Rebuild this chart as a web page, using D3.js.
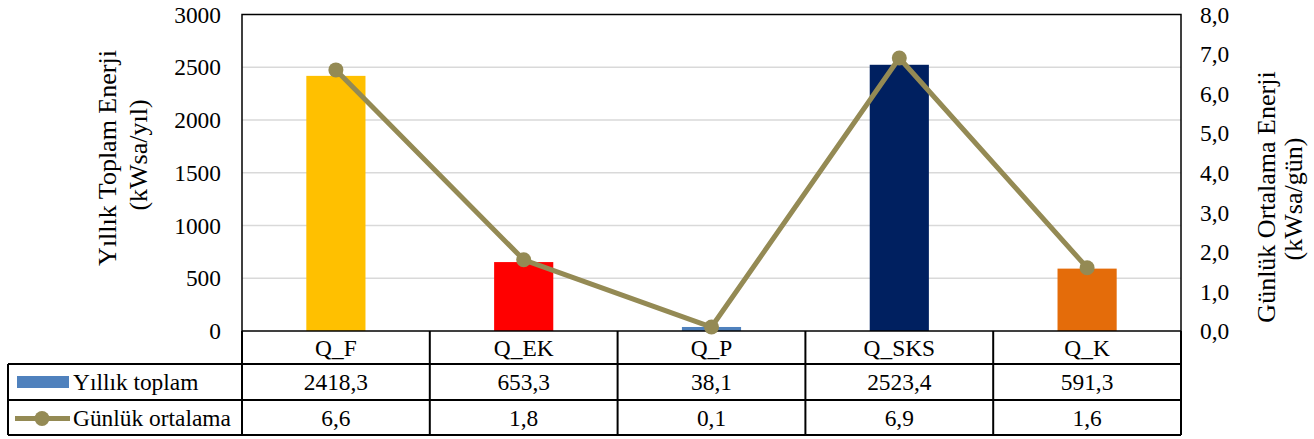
<!DOCTYPE html>
<html><head><meta charset="utf-8">
<script src="https://cdn.jsdelivr.net/npm/d3@7"></script>
<style>body{margin:0;background:#fff;}</style></head>
<body>
<svg id="c" width="1314" height="439"></svg>
<script>
const categories = ["Q_F","Q_EK","Q_P","Q_SKS","Q_K"];
const yearlyTotal = [2418.3, 653.3, 38.1, 2523.4, 591.3];
const dailyAvg = [6.6, 1.8, 0.1, 6.9, 1.6];
const barColors = ["#FFC000","#FF0000","#4F81BD","#002060","#E46C0A"];
const leftTicks = [0,500,1000,1500,2000,2500,3000];
const rightTicks = [0,1,2,3,4,5,6,7,8];
const seriesNames = ["Yıllık toplam","Günlük ortalama"];

const svg = d3.select("#c");
const L = 242, R = 1181, T = 14.5, B = 331;
const F = '"Liberation Serif"';
const FS = "23.4px", FT = "26px";
const lineColor = "#948A54";

const x = d3.scaleBand().domain(categories).range([L, R]).padding(0);
const yL = d3.scaleLinear().domain([0,3000]).range([B, T]);
const yR = d3.scaleLinear().domain([0,8]).range([B, T]);
const fmt = d => d.toFixed(1).replace(".", ",");

// gridlines
svg.append("g").selectAll("line").data(leftTicks.filter(d=>d>0 && d<3000)).join("line")
  .attr("x1", L).attr("x2", R).attr("y1", d=>yL(d)).attr("y2", d=>yL(d))
  .attr("stroke", "#d9d9d9").attr("stroke-width", 1.5);

// bars
const bw = x.bandwidth()*0.315;
svg.append("g").selectAll("rect").data(categories).join("rect")
  .attr("x", d => x(d) + x.bandwidth()/2 - bw/2)
  .attr("width", bw)
  .attr("y", (d,i) => yL(yearlyTotal[i]))
  .attr("height", (d,i) => B - yL(yearlyTotal[i]))
  .attr("fill", (d,i) => barColors[i]);

// plot border
svg.append("rect").attr("x", L).attr("y", T).attr("width", R-L).attr("height", B-T)
  .attr("fill","none").attr("stroke","#000").attr("stroke-width",1.5);

// left axis
const gl = svg.append("g").attr("transform", `translate(${L-21},0)`)
  .call(d3.axisLeft(yL).tickValues(leftTicks).tickSize(0).tickPadding(0).tickFormat(d3.format("d")));
gl.select(".domain").remove();
gl.selectAll("text").attr("dy","0.33em").style("font-family",F).style("font-size",FS);

// right axis
const gr = svg.append("g").attr("transform", `translate(${R+19},0)`)
  .call(d3.axisRight(yR).tickValues(rightTicks).tickSize(0).tickPadding(0).tickFormat(fmt));
gr.select(".domain").remove();
gr.selectAll("text").attr("dy","0.33em").style("font-family",F).style("font-size",FS);

// axis titles
svg.append("text").attr("transform","translate(107,158) rotate(-90)")
  .attr("text-anchor","middle").attr("dy","0.33em")
  .style("font-family",F).style("font-size",FT).text("Yıllık Toplam Enerji");
svg.append("text").attr("transform","translate(138,155) rotate(-90)")
  .attr("text-anchor","middle").attr("dy","0.33em")
  .style("font-family",F).style("font-size",FT).text("(kWsa/yıl)");
svg.append("text").attr("transform","translate(1266,197) rotate(-90)")
  .attr("text-anchor","middle").attr("dy","0.33em")
  .style("font-family",F).style("font-size",FT).text("Günlük Ortalama Enerji");
svg.append("text").attr("transform","translate(1293,199) rotate(-90)")
  .attr("text-anchor","middle").attr("dy","0.33em")
  .style("font-family",F).style("font-size",FT).text("(kWsa/gün)");

// line series
const pts = categories.map((c,i)=>[x(c)+x.bandwidth()/2, yR(dailyAvg[i])]);
svg.append("path").attr("d", d3.line()(pts)).attr("fill","none")
  .attr("stroke", lineColor).attr("stroke-width", 5).attr("stroke-linejoin","round");
svg.append("g").selectAll("circle").data(pts).join("circle")
  .attr("cx", d=>d[0]).attr("cy", d=>d[1]).attr("r", 7.5).attr("fill", lineColor);

// data table
const r1 = 364, r2 = 400, r3 = 435, TL = 8;
const tg = svg.append("g").attr("stroke","#000").attr("stroke-width",2);
[r1, r2, r3].forEach(y => tg.append("line").attr("x1",TL).attr("x2",R).attr("y1",y).attr("y2",y));
tg.append("line").attr("x1",TL).attr("x2",TL).attr("y1",r1).attr("y2",r3);
const bounds = categories.map(c=>x(c)).concat([R]);
tg.selectAll(".v").data(bounds).join("line").attr("class","v")
  .attr("x1",d=>d).attr("x2",d=>d).attr("y1",B).attr("y2",r3);

svg.append("g").selectAll("text").data(categories).join("text")
  .attr("x", d=>x(d)+x.bandwidth()/2).attr("y", (B+r1)/2).attr("dy","0.35em")
  .attr("text-anchor","middle").style("font-family",F).style("font-size",FS).text(d=>d);
svg.append("g").selectAll("text").data(yearlyTotal).join("text")
  .attr("x", (d,i)=>x(categories[i])+x.bandwidth()/2).attr("y", (r1+r2)/2).attr("dy","0.35em")
  .attr("text-anchor","middle").style("font-family",F).style("font-size",FS).text(d=>fmt(d));
svg.append("g").selectAll("text").data(dailyAvg).join("text")
  .attr("x", (d,i)=>x(categories[i])+x.bandwidth()/2).attr("y", (r2+r3)/2).attr("dy","0.35em")
  .attr("text-anchor","middle").style("font-family",F).style("font-size",FS).text(d=>fmt(d));

// legend keys
svg.append("rect").attr("x",17).attr("y",376).attr("width",52).attr("height",12).attr("fill","#4F81BD");
svg.append("text").attr("x",73).attr("y",(r1+r2)/2).attr("dy","0.35em")
  .style("font-family",F).style("font-size",FS).text(seriesNames[0]);
svg.append("line").attr("x1",15).attr("x2",70).attr("y1",(r2+r3)/2+1).attr("y2",(r2+r3)/2+1)
  .attr("stroke",lineColor).attr("stroke-width",5);
svg.append("circle").attr("cx",42).attr("cy",(r2+r3)/2+1).attr("r",7.5).attr("fill",lineColor);
svg.append("text").attr("x",73).attr("y",(r2+r3)/2).attr("dy","0.35em")
  .style("font-family",F).style("font-size",FS).text(seriesNames[1]);
</script>
</body></html>
